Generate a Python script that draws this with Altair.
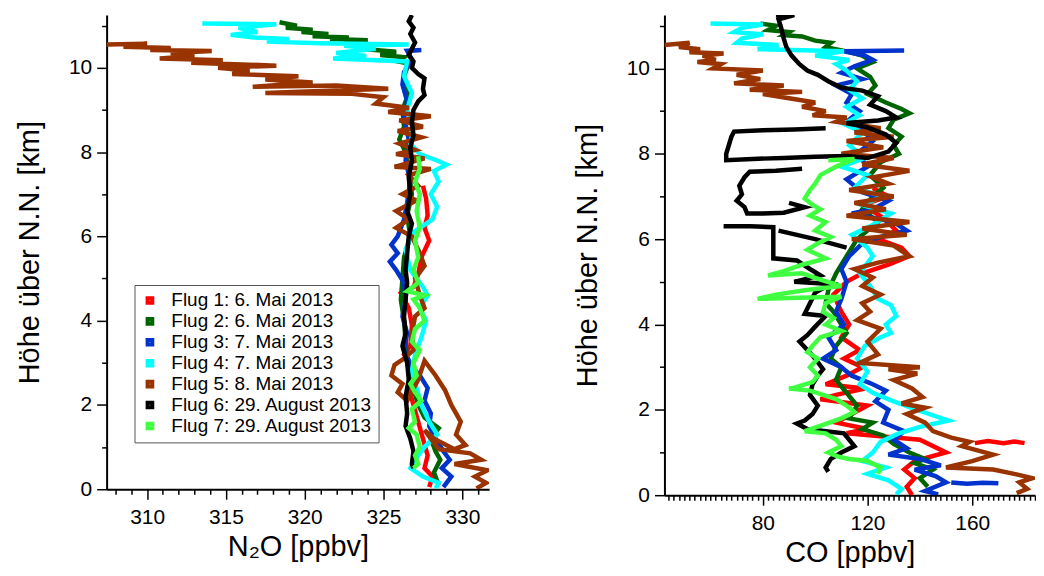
import altair as alt
import pandas as pd

FLIGHTS = ["Flug 1: 6. Mai 2013", "Flug 2: 6. Mai 2013", "Flug 3: 7. Mai 2013",
           "Flug 4: 7. Mai 2013", "Flug 5: 8. Mai 2013", "Flug 6: 29. August 2013",
           "Flug 7: 29. August 2013"]
COLORS = ["#ff0000", "#006400", "#0033cc", "#00ffff", "#993300", "#000000", "#40ff40"]

# ---- N2O profiles: (N2O ppbv, altitude km); None breaks the trace ----
N2O_F1 = [(327.5,7.2),(327.7,6.9),(327.8,6.5),(327.6,6.2),(327.9,5.9),(327.4,5.5),(327.2,5.1),(326.9,4.8),
          (326.1,4.65),(326.6,4.3),(326.8,3.9),(326.7,3.4),(326.3,3.2),(326.9,2.8),(326.6,2.4),(326.9,2.0),
          (327.2,1.6),(327.5,1.2),(327.8,0.8),(327.6,0.5),(328.1,0.3),(327.9,0.05)]
N2O_F2 = [(318.4,11.08),(319.5,11.0),(318.8,10.95),(320.5,10.9),(319.8,10.85),(321.5,10.8),(320.5,10.75),
          (322.8,10.72),(321.6,10.68),(324.0,10.65),(322.5,10.6),(324.5,10.55),(323.5,10.45),(325.8,10.38),
          (324.8,10.3),(326.3,10.25),(325.9,10.15),(326.6,10.1),(326.3,9.8),(326.6,9.4),(326.2,9.0),
          (326.3,8.6),(326.0,8.3),(326.4,8.0),(326.6,7.5),(326.8,7.0),(326.5,6.5),(326.7,6.0),(326.3,5.5),
          (326.2,5.0),(326.1,4.5),(326.3,4.0),(326.4,3.5),(326.5,3.0),(326.8,2.5),(327.2,2.0),(327.6,1.7),
          (328.5,1.45),(328.0,1.2),(328.3,0.9),(328.6,0.7),(328.2,0.4),(328.5,0.1)]
N2O_F3 = [(327.4,10.42),(326.5,10.4),(326.8,10.2),(326.3,9.9),(326.2,9.6),(326.5,9.2),(326.3,8.8),
          (326.6,8.3),(326.4,7.8),(326.7,7.3),(326.5,6.8),(326.3,6.4),(325.9,6.0),(325.5,5.8),(325.9,5.6),
          (325.4,5.4),(325.8,5.2),(326.3,4.9),(326.4,4.5),(326.2,4.1),(326.5,3.7),(326.3,3.3),(326.8,2.9),
          (327.3,2.7),(327.8,2.4),(327.6,2.1),(328.0,1.8),(327.9,1.5),(328.3,1.2),(328.8,0.9),(329.2,0.7),
          (328.7,0.5),(329.3,0.3),(328.8,0.05)]
N2O_F4 = [(313.5,11.05),(318.2,11.03),(315.8,10.95),(317.0,10.85),(315.3,10.78),(316.8,10.72),(319.0,10.68),
          (317.6,10.62),(321.0,10.58),(326.6,10.55),(322.5,10.52),(324.5,10.45),(322.0,10.35),(323.9,10.28),
          (321.8,10.22),(326.5,10.15),(326.3,9.8),(326.8,9.4),(326.5,9.0),(326.9,8.6),(326.7,8.2),
          (327.3,7.95),(328.4,7.8),(329.0,7.7),(328.2,7.55),(328.5,7.3),(328.0,7.0),(328.4,6.7),(328.1,6.4),
          (327.5,6.25),(326.9,6.1),(326.4,5.7),(326.7,5.2),(327.5,4.8),(327.8,4.6),(327.3,4.3),(327.7,4.0),
          (327.4,3.6),(327.0,3.2),(326.8,2.8),(327.1,2.4),(327.4,2.0),(327.9,1.6),(328.4,1.3),(327.6,1.0),
          (327.0,0.7),(326.7,0.5),(327.5,0.3),(328.5,0.15),(328.3,0.02)]
N2O_F5 = [(307.4,10.55),(310.0,10.57),(308.5,10.5),(311.5,10.47),(310.2,10.42),(314.1,10.4),(311.5,10.35),
          (313.0,10.28),(310.8,10.22),(314.8,10.18),(312.8,10.12),(318.2,10.05),(314.5,10.0),(316.5,9.93),
          (315.4,9.85),(319.6,9.8),(317.5,9.72),(320.5,9.65),(316.7,9.55),(322.0,9.58),(325.3,9.5),
          (321.0,9.45),(317.5,9.4),(323.0,9.38),(325.0,9.3),(324.5,9.15),(326.6,9.05),(325.3,8.95),
          (328.0,8.85),(326.0,8.75),(327.5,8.6),(325.9,8.5),(327.4,8.35),(326.0,8.2),(327.0,8.05),
          (325.8,7.95),(327.6,7.85),(325.7,7.65),(328.0,7.6),(326.6,7.45),(327.2,7.2),(326.2,7.0),
          (327.1,6.85),(325.8,6.6),(326.6,6.4),(325.8,6.2),(326.8,6.0),(327.3,5.6),(327.6,5.3),(327.0,5.0),
          (327.3,4.6),(327.6,4.3),(327.0,4.1),(326.8,3.7),(326.9,3.3),(326.3,3.1),(325.7,2.95),(325.5,2.7),
          (326.2,2.5),(325.9,2.3),(326.5,2.1),(327.2,2.6),(327.6,3.05),(328.3,2.7),(328.9,2.35),(329.3,2.0),
          (329.9,1.6),(329.6,1.3),(330.2,1.05),(329.5,0.95),(328.2,1.2),(327.6,1.4),(328.5,0.95),(330.5,0.85),
          (331.2,0.7),(329.5,0.6),(331.6,0.45),(330.8,0.3),(331.5,0.15),(330.9,0.02)]
N2O_F6 = [(326.8,11.25),(326.6,11.1),(326.9,10.95),(326.7,10.8),(327.0,10.6),(326.8,10.45),(326.6,10.3),
          (326.9,10.15),(326.8,10.0),(327.2,9.85),(327.6,9.75),(327.5,9.5),(327.6,9.35),(327.2,9.2),
          (326.9,9.0),(326.8,8.7),(326.9,8.4),(326.7,8.1),(326.8,7.8),(326.6,7.4),(326.7,7.0),(326.5,6.6),
          (326.8,6.3),(326.6,6.0),(326.5,5.6),(326.4,5.2),(326.5,4.9),(326.4,4.5),(326.3,4.1),(326.4,3.7),
          (326.2,3.4),(326.5,3.0),(326.6,2.6),(326.4,2.2),(326.5,1.8),(326.4,1.5),(326.7,1.2),(326.9,0.9),
          (326.8,0.6),(326.9,0.5)]
N2O_F7 = [(327.2,7.9),(327.3,7.6),(327.0,7.3),(327.3,7.0),(327.1,6.6),(327.3,6.2),(327.0,5.9),(327.2,5.5),
          (326.9,5.2),(327.2,4.9),(326.5,4.7),(327.6,4.6),(326.9,4.5),(327.3,4.3),(327.6,4.0),(327.0,3.8),
          (326.8,3.5),(327.3,3.3),(326.9,3.0),(327.1,2.7),(326.7,2.5),(327.0,2.3),(327.4,2.1),(326.8,1.9),
          (327.0,1.6),(326.6,1.45),(327.1,1.3),(327.3,1.0),(327.0,0.8),(327.2,0.6),(326.9,0.5)]

# ---- CO profiles: (CO ppbv, altitude km) ----
CO_F1 = [(122,7.2),(128,7.0),(118,6.8),(126,6.5),(131,6.2),(124,6.0),(133,5.8),(136,5.6),(128,5.4),(118,5.2),
         (112,5.0),(107,4.7),(110,4.3),(113,4.0),(110,3.7),(117,3.4),(111,3.2),(118,3.0),(112,2.8),(104,2.6),
         (119,2.5),(108,2.35),(102,2.25),(120,2.1),(114,1.9),(108,1.7),(120,1.55),(112,1.45),(140,1.3),
         (150,1.0),(138,0.8),(134,0.6),(138,0.4),(135,0.2),(137,0.0), None,
         (161,1.22),(166,1.27),(172,1.22),(176,1.26),(180,1.22)]
CO_F2 = [(79,11.05),(85,11.0),(82,10.9),(90,10.85),(88,10.78),(95,10.75),(100,10.65),(106,10.6),(104,10.5),
         (112,10.4),(118,10.3),(122,10.15),(116,10.0),(121,9.8),(123,9.6),(120,9.4),(127,9.2),(133,9.05),
         (136,8.95),(130,8.8),(128,8.6),(133,8.4),(130,8.2),(132,8.0),(125,7.8),(121,7.5),(126,7.2),(122,7.0),
         (118,6.7),(124,6.4),(116,6.0),(112,5.6),(108,5.2),(105,4.8),(104,4.5),(107,4.3),(110,4.0),(112,3.8),
         (108,3.5),(106,3.2),(110,3.0),(108,2.7),(112,2.4),(116,2.1),(113,1.8),(122,1.7),(118,1.55),
         (126,1.4),(130,1.2),(136,1.0),(142,0.85),(138,0.75),(145,0.6),(140,0.4),(143,0.2)]
CO_F3 = [(134,10.42),(111,10.4),(119,10.3),(122,10.2),(115,10.05),(110,9.9),(118,9.75),(108,9.6),(114,9.4),
         (112,9.2),(117,9.0),(113,8.8),(119,8.5),(122,8.3),(116,8.0),(120,7.7),(112,7.4),(118,7.1),(128,6.9),
         (122,6.7),(114,6.6),(130,6.4),(135,6.2),(125,6.05),(118,5.9),(113,5.6),(110,5.3),(112,5.0),(110,4.6),
         (108,4.3),(111,4.0),(105,3.7),(108,3.4),(103,3.2),(110,3.0),(114,2.8),(122,2.6),(127,2.45),(123,2.2),
         (128,2.0),(126,1.7),(134,1.5),(130,1.3),(135,1.1),(128,0.95),(140,0.85),(148,0.7),(138,0.6),
         (146,0.45),(150,0.3),(142,0.1),(147,0.02), None,
         (152,0.3),(158,0.27),(164,0.29),(170,0.28)]
CO_F4 = [(60,11.05),(80,11.03),(72,10.95),(69,10.85),(80,10.8),(72,10.7),(70,10.6),(86,10.55),(78,10.45),
         (111,10.4),(100,10.3),(113,10.2),(108,10.1),(112,9.95),(116,9.7),(113,9.5),(118,9.3),(112,9.1),
         (117,8.9),(111,8.7),(118,8.5),(113,8.2),(119,7.9),(110,7.7),(120,7.5),(115,7.2),(126,7.0),(118,6.8),
         (129,6.6),(121,6.3),(114,6.1),(120,5.8),(122,5.6),(117,5.2),(121,4.9),(124,4.6),(129,4.45),(131,4.2),
         (127,4.0),(129,3.8),(125,3.7),(119,3.5),(116,3.2),(120,2.9),(117,2.6),(122,2.4),(130,2.2),(139,2.0),
         (146,1.85),(151,1.75),(140,1.6),(132,1.45),(125,1.25),(122,1.0),(118,0.8),(127,0.65),(120,0.5),
         (128,0.35),(133,0.15),(131,0.02)]
CO_F5 = [(42.4,10.55),(52,10.6),(48,10.5),(56,10.45),(52,10.38),(65,10.35),(57,10.3),(62,10.2),(55,10.15),
         (64,10.1),(61,10.0),(80,9.95),(70,9.85),(79,9.75),(69,9.65),(88,9.6),(75,9.5),(95,9.45),(80,9.4),
         (90,9.3),(100,9.2),(95,9.1),(104,9.0),(99,8.9),(112,8.85),(108,8.75),(125,8.6),(115,8.5),(130,8.4),
         (112,8.3),(126,8.15),(110,8.0),(130,7.9),(118,7.75),(136,7.6),(122,7.45),(128,7.3),(113,7.15),
         (130,7.0),(115,6.85),(127,6.7),(112,6.55),(136,6.4),(118,6.25),(135,6.1),(114,6.0),(130,5.85),
         (136,5.6),(124,5.45),(115,5.3),(122,5.1),(118,4.9),(125,4.7),(118,4.5),(121,4.3),(116,4.1),(125,3.9),
         (120,3.6),(124,3.3),(117,3.1),(140,3.0),(128,2.95),(139,2.85),(130,2.7),(137,2.5),(141,2.3),
         (133,2.15),(142,2.05),(135,1.9),(142,1.7),(145,1.5),(152,1.35),(159,1.25),(156,1.15),(162,1.05),
         (168,0.95),(160,0.8),(150,0.65),(168,0.6),(176,0.5),(183,0.4),(178,0.3),(181,0.15),(177,0.05)]
CO_F6 = [(85,11.25),(92,11.25),(86,11.15),(87,10.95),(88,10.7),(89,10.5),(91,10.3),(94,10.1),(97,9.95),
         (101,9.85),(105,9.7),(110,9.55),(118,9.48),(124,9.35),(121,9.15),(127,9.0),(131,8.85),(124,8.78),
         (112,8.72),(120,8.62),(127,8.45),(131,8.25),(128,8.05),(120,7.9),(112,7.95),(100,7.93),(88,7.9),
         (76,7.88),(66,7.85),(66,8.0),(67,8.2),(68,8.4),(69,8.52),(80,8.55),(92,8.57),(104,8.6), None,
         (95,7.65),(85,7.6),(75,7.58),(73,7.45),(71,7.25),(72,7.05),(70,6.9),(73,6.75),(74,6.6),(80,6.6),
         (88,6.62),(96,6.75),(90,6.85), None,
         (86,6.2),(100,6.0),(112,5.8), None,
         (65,6.3),(75,6.3),(84,6.28),(84,5.95),(84,5.55),(93,5.5),(98,5.3),(102,5.15),(92,5.0),(106,4.95),
         (100,4.75),(98,4.5),(96,4.25),(104,4.2),(100,3.95),(97,3.75),(94,3.6),(97,3.4),(100,3.2),(103,2.95),
         (101,2.8),(99,2.6),(98,2.35),(101,2.1),(99,1.9),(96,1.75),(93,1.68),(97,1.55),(104,1.5),(111,1.45),
         (113,1.3),(115,1.15),(110,1.0),(106,0.85),(104,0.65),(105,0.55)]
CO_F7 = [(105,7.85),(115,7.88),(108,7.7),(102,7.5),(100,7.3),(98,7.15),(96,6.95),(99,6.8),(102,6.7),(98,6.55),
         (104,6.4),(100,6.2),(106,6.05),(101,5.9),(97,5.75),(104,5.55),(95,5.4),(88,5.25),(82,5.15),(95,5.2),
         (102,5.05),(110,4.9),(96,4.8),(85,4.7),(78,4.6),(90,4.62),(110,4.65),(104,4.5),(103,4.3),(107,4.15),
         (104,4.0),(110,3.85),(102,3.7),(99,3.5),(97,3.35),(101,3.2),(98,3.0),(101,2.8),(99,2.65),(92,2.52),
         (90,2.5),(98,2.45),(103,2.35),(108,2.25),(112,2.1),(115,1.95),(110,1.8),(103,1.65),(96,1.5),
         (104,1.45),(108,1.3),(110,1.15),(105,1.0),(109,0.9),(113,0.85),(120,0.8),(125,0.65),(124,0.5)]

# ---- axis ticks ----
N2O_TICKS = list(range(308, 332))
CO_TICKS = list(range(44, 185, 2))
ALT_TICKS = [i * 0.25 for i in range(0, 46)]

N2O_DOMAIN = [307.43, 331.7]
CO_DOMAIN = [42.4, 184.0]
ALT_DOMAIN = [0, 11.25]


def build(series):
    rows = []
    for name, pts in zip(FLIGHTS, series):
        seg, i = 0, 0
        for p in pts:
            if p is None:
                seg += 1
                continue
            rows.append({"flight": name, "seg": f"{name}|{seg}", "v": p[0], "alt": p[1], "i": i})
            i += 1
    return pd.DataFrame(rows)


df_n2o = build([N2O_F1, N2O_F2, N2O_F3, N2O_F4, N2O_F5, N2O_F6, N2O_F7])
df_co = build([CO_F1, CO_F2, CO_F3, CO_F4, CO_F5, CO_F6, CO_F7])

FONT = "Liberation Sans"

y_axis = alt.Axis(
    values=ALT_TICKS, title="Höhe über N.N. [km]", format="d",
    labelExpr="datum.value % 2 === 0 ? datum.label : ''",
    tickSize={"condition": {"test": "datum.value % 2 === 0", "value": 10}, "value": 5},
    labelOverlap=False, labelPadding=5, titlePadding=24,
)

color_scale = alt.Scale(domain=FLIGHTS, range=COLORS)

left = alt.Chart(df_n2o).mark_line(strokeWidth=4.5, clip=True).encode(
    x=alt.X("v:Q", scale=alt.Scale(domain=N2O_DOMAIN, nice=False, zero=False),
            axis=alt.Axis(values=N2O_TICKS, title="N₂O [ppbv]", format="d",
                          labelExpr="datum.value % 5 === 0 ? datum.label : ''",
                          tickSize={"condition": {"test": "datum.value % 5 === 0", "value": 10}, "value": 5},
                          labelOverlap=False, labelPadding=7, titlePadding=6)),
    y=alt.Y("alt:Q", scale=alt.Scale(domain=ALT_DOMAIN, nice=False), axis=y_axis),
    color=alt.Color("flight:N", scale=color_scale,
                    legend=alt.Legend(title=None, orient="none", legendX=28, legendY=271,
                                      symbolType="square", symbolSize=22, symbolStrokeWidth=4,
                                      labelFont=FONT, labelFontSize=19, labelColor="black",
                                      rowPadding=0, padding=6, strokeColor="#555555",
                                      fillColor="white", labelLimit=400, labelOffset=12)),
    detail="seg:N",
    order="i:Q",
).properties(width=384, height=476)

right = alt.Chart(df_co).mark_line(strokeWidth=4.5, clip=True).encode(
    x=alt.X("v:Q", scale=alt.Scale(domain=CO_DOMAIN, nice=False, zero=False),
            axis=alt.Axis(values=CO_TICKS, title="CO [ppbv]", format="d",
                          labelExpr="datum.value % 40 === 0 ? datum.label : ''",
                          tickSize={"condition": {"test": "datum.value % 40 === 0", "value": 10}, "value": 5},
                          labelOverlap=False, labelPadding=7, titlePadding=6)),
    y=alt.Y("alt:Q", scale=alt.Scale(domain=ALT_DOMAIN, nice=False), axis=y_axis),
    color=alt.Color("flight:N", scale=color_scale, legend=None),
    detail="seg:N",
    order="i:Q",
).properties(width=372, height=482)

chart = alt.hconcat(left, right, spacing=84).properties(
    padding={"left": 7, "top": 5, "right": 0, "bottom": 0}
).configure_view(stroke=None).configure_axis(
    labelFont=FONT, titleFont=FONT, labelFontSize=21, titleFontSize=29,
    titleFontWeight="normal", labelColor="black", titleColor="black",
    domainColor="black", domainWidth=2, tickColor="black", tickWidth=1.5, grid=False,
)

chart.save("out.html", embed_options={"renderer": "svg", "actions": False})
